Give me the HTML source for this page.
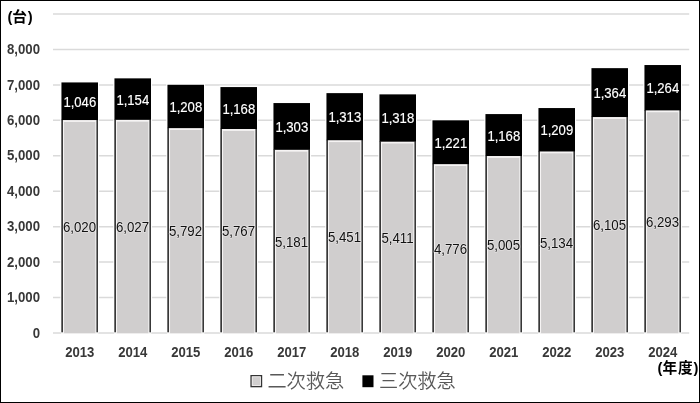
<!DOCTYPE html>
<html lang="ja"><head><meta charset="utf-8"><title>救急搬送台数</title>
<style>
html,body{margin:0;padding:0;background:#fff;}
body{width:700px;height:403px;overflow:hidden;}
svg{display:block;}
text{font-family:"Liberation Sans","Noto Sans CJK JP",sans-serif;}
.ax{font-weight:bold;font-size:14.2px;fill:#383838;}
.dl{font-size:14.2px;fill:#111;stroke:rgba(244,242,242,0.5);stroke-width:1.7px;stroke-linejoin:round;paint-order:stroke fill;}
.dw{font-size:14.2px;fill:#fff;stroke:#fff;stroke-width:0.15px;}
.un{font-weight:bold;font-size:14.7px;fill:#000;}
.lg{font-size:19.2px;fill:#595959;font-weight:350;}
</style></head><body>
<svg width="700" height="403" viewBox="0 0 700 403">
<rect x="0" y="0" width="700" height="403" fill="#fff"/>
<g stroke="#dadada" stroke-width="1.5">
<line x1="53" x2="689.2" y1="297.56" y2="297.56"/>
<line x1="53" x2="689.2" y1="262.12" y2="262.12"/>
<line x1="53" x2="689.2" y1="226.68" y2="226.68"/>
<line x1="53" x2="689.2" y1="191.24" y2="191.24"/>
<line x1="53" x2="689.2" y1="155.8" y2="155.8"/>
<line x1="53" x2="689.2" y1="120.36" y2="120.36"/>
<line x1="53" x2="689.2" y1="84.92" y2="84.92"/>
<line x1="53" x2="689.2" y1="49.48" y2="49.48"/>
<line x1="53" x2="689.2" y1="14.04" y2="14.04"/>
</g>
<line x1="53" x2="689.2" y1="333" y2="333" stroke="#dadada" stroke-width="1.5"/>
<g>
<rect x="60.3" y="81.08" width="38.8" height="251.17" fill="#fff"/>
<rect x="61.1" y="332.2" width="37.2" height="1.6" fill="#fff"/>
<rect x="61.3" y="119.65" width="36.7" height="212.65" fill="#383838"/>
<rect x="63" y="119.65" width="33.4" height="214.15" fill="#f6f4f4"/>
<rect x="64.05" y="121.9" width="31.3" height="211.3" fill="#d0cece"/>
<rect x="61.45" y="82.43" width="36.55" height="37.62" fill="#000"/>
</g>
<g>
<rect x="113.3" y="77.01" width="38.8" height="255.24" fill="#fff"/>
<rect x="114.1" y="332.2" width="37.2" height="1.6" fill="#fff"/>
<rect x="114.3" y="119.4" width="36.7" height="212.9" fill="#383838"/>
<rect x="116" y="119.4" width="33.4" height="214.4" fill="#f6f4f4"/>
<rect x="117.05" y="121.65" width="31.3" height="211.55" fill="#d0cece"/>
<rect x="114.45" y="78.36" width="36.55" height="41.45" fill="#000"/>
</g>
<g>
<rect x="166.3" y="83.42" width="38.8" height="248.83" fill="#fff"/>
<rect x="167.1" y="332.2" width="37.2" height="1.6" fill="#fff"/>
<rect x="167.3" y="127.73" width="36.7" height="204.57" fill="#383838"/>
<rect x="169" y="127.73" width="33.4" height="206.07" fill="#f6f4f4"/>
<rect x="170.05" y="129.98" width="31.3" height="203.22" fill="#d0cece"/>
<rect x="167.45" y="84.77" width="36.55" height="43.36" fill="#000"/>
</g>
<g>
<rect x="219.3" y="85.72" width="38.8" height="246.53" fill="#fff"/>
<rect x="220.1" y="332.2" width="37.2" height="1.6" fill="#fff"/>
<rect x="220.3" y="128.62" width="36.7" height="203.68" fill="#383838"/>
<rect x="222" y="128.62" width="33.4" height="205.18" fill="#f6f4f4"/>
<rect x="223.05" y="130.87" width="31.3" height="202.33" fill="#d0cece"/>
<rect x="220.45" y="87.07" width="36.55" height="41.94" fill="#000"/>
</g>
<g>
<rect x="272.3" y="101.71" width="38.8" height="230.54" fill="#fff"/>
<rect x="273.1" y="332.2" width="37.2" height="1.6" fill="#fff"/>
<rect x="273.3" y="149.39" width="36.7" height="182.91" fill="#383838"/>
<rect x="275" y="149.39" width="33.4" height="184.41" fill="#f6f4f4"/>
<rect x="276.05" y="151.64" width="31.3" height="181.56" fill="#d0cece"/>
<rect x="273.45" y="103.06" width="36.55" height="46.73" fill="#000"/>
</g>
<g>
<rect x="325.3" y="91.78" width="38.8" height="240.47" fill="#fff"/>
<rect x="326.1" y="332.2" width="37.2" height="1.6" fill="#fff"/>
<rect x="326.3" y="139.82" width="36.7" height="192.48" fill="#383838"/>
<rect x="328" y="139.82" width="33.4" height="193.98" fill="#f6f4f4"/>
<rect x="329.05" y="142.07" width="31.3" height="191.13" fill="#d0cece"/>
<rect x="326.45" y="93.13" width="36.55" height="47.08" fill="#000"/>
</g>
<g>
<rect x="378.3" y="93.02" width="38.8" height="239.23" fill="#fff"/>
<rect x="379.1" y="332.2" width="37.2" height="1.6" fill="#fff"/>
<rect x="379.3" y="141.23" width="36.7" height="191.07" fill="#383838"/>
<rect x="381" y="141.23" width="33.4" height="192.57" fill="#f6f4f4"/>
<rect x="382.05" y="143.48" width="31.3" height="189.72" fill="#d0cece"/>
<rect x="379.45" y="94.37" width="36.55" height="47.26" fill="#000"/>
</g>
<g>
<rect x="431.3" y="118.97" width="38.8" height="213.28" fill="#fff"/>
<rect x="432.1" y="332.2" width="37.2" height="1.6" fill="#fff"/>
<rect x="432.3" y="163.74" width="36.7" height="168.56" fill="#383838"/>
<rect x="434" y="163.74" width="33.4" height="170.06" fill="#f6f4f4"/>
<rect x="435.05" y="165.99" width="31.3" height="167.21" fill="#d0cece"/>
<rect x="432.45" y="120.32" width="36.55" height="43.82" fill="#000"/>
</g>
<g>
<rect x="484.3" y="112.73" width="38.8" height="219.52" fill="#fff"/>
<rect x="485.1" y="332.2" width="37.2" height="1.6" fill="#fff"/>
<rect x="485.3" y="155.62" width="36.7" height="176.68" fill="#383838"/>
<rect x="487" y="155.62" width="33.4" height="178.18" fill="#f6f4f4"/>
<rect x="488.05" y="157.87" width="31.3" height="175.33" fill="#d0cece"/>
<rect x="485.45" y="114.08" width="36.55" height="41.94" fill="#000"/>
</g>
<g>
<rect x="537.3" y="106.7" width="38.8" height="225.55" fill="#fff"/>
<rect x="538.1" y="332.2" width="37.2" height="1.6" fill="#fff"/>
<rect x="538.3" y="151.05" width="36.7" height="181.25" fill="#383838"/>
<rect x="540" y="151.05" width="33.4" height="182.75" fill="#f6f4f4"/>
<rect x="541.05" y="153.3" width="31.3" height="179.9" fill="#d0cece"/>
<rect x="538.45" y="108.05" width="36.55" height="43.4" fill="#000"/>
</g>
<g>
<rect x="590.3" y="66.8" width="38.8" height="265.45" fill="#fff"/>
<rect x="591.1" y="332.2" width="37.2" height="1.6" fill="#fff"/>
<rect x="591.3" y="116.64" width="36.7" height="215.66" fill="#383838"/>
<rect x="593" y="116.64" width="33.4" height="217.16" fill="#f6f4f4"/>
<rect x="594.05" y="118.89" width="31.3" height="214.31" fill="#d0cece"/>
<rect x="591.45" y="68.15" width="36.55" height="48.89" fill="#000"/>
</g>
<g>
<rect x="643.3" y="63.68" width="38.8" height="268.57" fill="#fff"/>
<rect x="644.1" y="332.2" width="37.2" height="1.6" fill="#fff"/>
<rect x="644.3" y="109.98" width="36.7" height="222.32" fill="#383838"/>
<rect x="646" y="109.98" width="33.4" height="223.82" fill="#f6f4f4"/>
<rect x="647.05" y="112.23" width="31.3" height="220.97" fill="#d0cece"/>
<rect x="644.45" y="65.03" width="36.55" height="45.35" fill="#000"/>
</g>
<text class="ax" text-anchor="end" transform="translate(40 337.6) scale(0.93 1)">0</text>
<text class="ax" text-anchor="end" transform="translate(40 302.16) scale(0.93 1)">1,000</text>
<text class="ax" text-anchor="end" transform="translate(40 266.72) scale(0.93 1)">2,000</text>
<text class="ax" text-anchor="end" transform="translate(40 231.28) scale(0.93 1)">3,000</text>
<text class="ax" text-anchor="end" transform="translate(40 195.84) scale(0.93 1)">4,000</text>
<text class="ax" text-anchor="end" transform="translate(40 160.4) scale(0.93 1)">5,000</text>
<text class="ax" text-anchor="end" transform="translate(40 124.96) scale(0.93 1)">6,000</text>
<text class="ax" text-anchor="end" transform="translate(40 89.52) scale(0.93 1)">7,000</text>
<text class="ax" text-anchor="end" transform="translate(40 54.08) scale(0.93 1)">8,000</text>
<text class="ax" text-anchor="middle" transform="translate(79.8 356.5) scale(0.925 1)">2013</text>
<text class="ax" text-anchor="middle" transform="translate(132.8 356.5) scale(0.925 1)">2014</text>
<text class="ax" text-anchor="middle" transform="translate(185.8 356.5) scale(0.925 1)">2015</text>
<text class="ax" text-anchor="middle" transform="translate(238.8 356.5) scale(0.925 1)">2016</text>
<text class="ax" text-anchor="middle" transform="translate(291.8 356.5) scale(0.925 1)">2017</text>
<text class="ax" text-anchor="middle" transform="translate(344.8 356.5) scale(0.925 1)">2018</text>
<text class="ax" text-anchor="middle" transform="translate(397.8 356.5) scale(0.925 1)">2019</text>
<text class="ax" text-anchor="middle" transform="translate(450.8 356.5) scale(0.925 1)">2020</text>
<text class="ax" text-anchor="middle" transform="translate(503.8 356.5) scale(0.925 1)">2021</text>
<text class="ax" text-anchor="middle" transform="translate(556.8 356.5) scale(0.925 1)">2022</text>
<text class="ax" text-anchor="middle" transform="translate(609.8 356.5) scale(0.925 1)">2023</text>
<text class="ax" text-anchor="middle" transform="translate(662.8 356.5) scale(0.925 1)">2024</text>
<text class="dl" text-anchor="middle" transform="translate(79.5 231.83) scale(0.935 1)">6,020</text>
<text class="dw" text-anchor="middle" transform="translate(79.8 106.72) scale(0.925 1)">1,046</text>
<text class="dl" text-anchor="middle" transform="translate(132.5 231.7) scale(0.935 1)">6,027</text>
<text class="dw" text-anchor="middle" transform="translate(132.8 104.55) scale(0.925 1)">1,154</text>
<text class="dl" text-anchor="middle" transform="translate(185.5 235.87) scale(0.935 1)">5,792</text>
<text class="dw" text-anchor="middle" transform="translate(185.8 111.93) scale(0.925 1)">1,208</text>
<text class="dl" text-anchor="middle" transform="translate(238.5 236.31) scale(0.935 1)">5,767</text>
<text class="dw" text-anchor="middle" transform="translate(238.8 113.52) scale(0.925 1)">1,168</text>
<text class="dl" text-anchor="middle" transform="translate(291.5 246.69) scale(0.935 1)">5,181</text>
<text class="dw" text-anchor="middle" transform="translate(291.8 131.9) scale(0.925 1)">1,303</text>
<text class="dl" text-anchor="middle" transform="translate(344.5 241.91) scale(0.935 1)">5,451</text>
<text class="dw" text-anchor="middle" transform="translate(344.8 122.15) scale(0.925 1)">1,313</text>
<text class="dl" text-anchor="middle" transform="translate(397.5 242.62) scale(0.935 1)">5,411</text>
<text class="dw" text-anchor="middle" transform="translate(397.8 123.48) scale(0.925 1)">1,318</text>
<text class="dl" text-anchor="middle" transform="translate(450.5 253.87) scale(0.935 1)">4,776</text>
<text class="dw" text-anchor="middle" transform="translate(450.8 147.7) scale(0.925 1)">1,221</text>
<text class="dl" text-anchor="middle" transform="translate(503.5 249.81) scale(0.935 1)">5,005</text>
<text class="dw" text-anchor="middle" transform="translate(503.8 140.53) scale(0.925 1)">1,168</text>
<text class="dl" text-anchor="middle" transform="translate(556.5 247.53) scale(0.935 1)">5,134</text>
<text class="dw" text-anchor="middle" transform="translate(556.8 135.23) scale(0.925 1)">1,209</text>
<text class="dl" text-anchor="middle" transform="translate(609.5 230.32) scale(0.935 1)">6,105</text>
<text class="dw" text-anchor="middle" transform="translate(609.8 98.07) scale(0.925 1)">1,364</text>
<text class="dl" text-anchor="middle" transform="translate(662.5 226.99) scale(0.935 1)">6,293</text>
<text class="dw" text-anchor="middle" transform="translate(662.8 93.18) scale(0.925 1)">1,264</text>
<text class="un" x="7.5" y="21.5" dx="0 -0.2 0.9">(台)</text>
<text class="un" x="657.4" y="372.9" dx="0 0.1 1 0.6">(年度)</text>
<rect x="251.1" y="375.7" width="10.4" height="10.9" fill="#d0cece" stroke="#333" stroke-width="1.4"/>
<rect x="252.2" y="376.8" width="8.2" height="8.7" fill="none" stroke="#f4f2f2" stroke-width="0.8"/>
<text class="lg" x="267.4" y="387.6">二次救急</text>
<rect x="362.4" y="375.3" width="11.1" height="11.9" fill="#000"/>
<text class="lg" x="379" y="387.6">三次救急</text>
<rect x="0.5" y="0.5" width="699" height="402" fill="none" stroke="#000" stroke-width="1"/>
</svg></body></html>
